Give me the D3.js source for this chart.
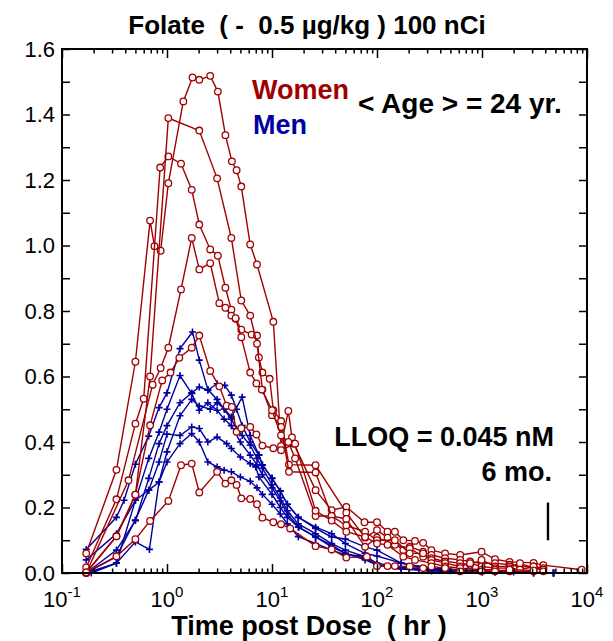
<!DOCTYPE html>
<html>
<head>
<meta charset="utf-8">
<script src="https://d3js.org/d3.v7.min.js"></script>
<style>
body { margin: 0; background: #fff; }
text { font-family: "Liberation Sans", Arial, sans-serif; }
</style>
</head>
<body>
<div id="chart"></div>
<script>
// ---- data: [time (hr), concentration] ----
const womenA = [[0.17,0.06],[0.33,0.315],[0.5,0.645],[0.69,1.076],[0.76,0.998],[0.87,0.984],[1.03,1.19],[1.43,1.44],[1.75,1.513],[2.03,1.506],[2.58,1.518],[3.05,1.47],[3.6,1.337],[4.15,1.257],[4.6,1.23],[5.1,1.18],[6.2,1.003],[7.2,0.942],[10.3,0.767],[12.2,0.388],[14.3,0.495],[15.5,0.414],[16.1,0.395],[26,0.253],[37,0.192],[51,0.202],[76,0.155],[100,0.155],[126,0.126],[148,0.126],[178,0.10],[230,0.098],[275,0.092],[330,0.07],[445,0.06],[620,0.055],[990,0.065],[1330,0.042],[1830,0.034],[3100,0.031],[3840,0.024],[8900,0.01]];
const womenB = [[0.17,0.017],[0.33,0.225],[0.5,0.456],[0.6,0.532],[0.86,1.238],[1.03,1.272],[1.36,1.25],[1.72,1.17],[2.03,1.064],[2.58,0.988],[3.05,0.969],[3.6,0.871],[4.1,0.804],[4.5,0.776],[5.1,0.743],[6.4,0.728],[7.2,0.725],[7.5,0.658],[8.1,0.612],[9.5,0.593],[10.3,0.497],[12.2,0.464],[14.5,0.331],[26,0.329],[51,0.184],[77,0.108],[100,0.131],[126,0.108],[178,0.07],[205,0.08],[275,0.065],[330,0.055],[445,0.045],[620,0.04],[770,0.035],[990,0.03],[1330,0.03],[1830,0.025],[2300,0.02],[3100,0.02],[3840,0.015]];
const womenC = [[0.17,0.0],[0.33,0.112],[0.5,0.239],[0.69,0.60],[1.03,1.389],[2.03,1.351],[3.0,1.205],[4.1,1.023],[5.1,0.832],[6.2,0.786],[7.2,0.70],[8.1,0.56],[10,0.482],[12.2,0.446],[14.5,0.309],[26,0.307],[37,0.174],[51,0.165],[77,0.08],[100,0.108],[148,0.086],[205,0.075],[275,0.05],[330,0.045],[445,0.035],[620,0.03],[770,0.025],[990,0.04],[1330,0.02],[1830,0.02],[2300,0.03],[3100,0.015],[3840,0.01]];
const womenD = [[0.17,0.0],[0.43,0.283],[0.73,0.575],[0.87,0.626],[1.03,0.688],[1.36,0.866],[1.72,1.023],[2.03,0.927],[2.58,0.946],[3.15,0.824],[3.6,0.81],[4.1,0.786],[4.5,0.778],[5.1,0.72],[6.2,0.612],[7.1,0.579],[8.0,0.56],[10,0.497],[12.2,0.42],[14.3,0.40],[16.6,0.35],[26,0.174],[37,0.174],[51,0.145],[77,0.126],[100,0.10],[148,0.10],[205,0.06],[275,0.06],[330,0.04],[445,0.03],[620,0.02],[770,0.03],[990,0.02],[1330,0.015],[1830,0.015],[2300,0.01],[3100,0.02],[3840,0.005]];
const womenE = [[0.17,0.002],[0.33,0.112],[0.5,0.239],[0.69,0.451],[0.9,0.588],[1.08,0.612],[1.31,0.657],[1.72,0.688],[2.03,0.725],[2.58,0.617],[3.15,0.57],[3.7,0.511],[4.15,0.507],[4.6,0.431],[5.1,0.442],[6.2,0.446],[7.1,0.423],[8.1,0.389],[10.3,0.381],[12.2,0.375],[16.6,0.395],[26,0.19],[37,0.16],[51,0.126],[77,0.11],[100,0.09],[126,0.086],[178,0.05],[230,0.04],[330,0.03],[445,0.02],[620,0.015],[990,0.01],[1330,0.01],[1830,0.005],[3100,0.005]];
const womenF = [[0.17,0.002],[0.33,0.051],[0.5,0.103],[0.69,0.159],[1.03,0.22],[1.36,0.329],[1.72,0.334],[2.03,0.246],[3.0,0.309],[3.6,0.273],[4.1,0.283],[4.6,0.269],[5.1,0.228],[6.2,0.226],[7.2,0.21],[8.1,0.169],[10.3,0.155],[12.2,0.149],[14.9,0.136],[26,0.082],[37,0.072],[51,0.047],[80,0.05],[100,0.021],[126,0.021],[148,0.021],[205,0.02],[275,0.015],[330,0.02],[445,0.015],[620,0.005],[990,0.005],[1330,0.005],[1830,0.01],[3100,0.008]];

const menA = [[0.17,0.072],[0.33,0.17],[0.39,0.222],[0.5,0.332],[0.67,0.418],[0.84,0.505],[1.0,0.55],[1.33,0.685],[1.75,0.736],[2.03,0.65],[2.45,0.56],[3.0,0.53],[3.5,0.50],[4.1,0.47],[4.6,0.44],[5.2,0.42],[6.2,0.39],[7.2,0.35],[8.1,0.32],[10,0.27],[12,0.23],[14,0.19],[17.8,0.15],[26,0.12],[37,0.09],[50,0.07],[77,0.05],[100,0.03],[150,0.02],[250,0.012],[500,0.007],[1000,0.004],[2000,0.003],[4800,0.0]];
const menB = [[0.17,0.04],[0.33,0.12],[0.5,0.222],[0.67,0.35],[0.84,0.43],[1.0,0.50],[1.33,0.603],[1.72,0.548],[2.03,0.497],[2.45,0.52],[3.0,0.497],[3.5,0.47],[4.1,0.45],[5.0,0.40],[6.2,0.36],[7.2,0.33],[8.1,0.30],[10,0.26],[12,0.22],[14,0.18],[18,0.14],[26,0.11],[37,0.085],[50,0.06],[77,0.045],[100,0.025],[170,0.015],[330,0.008],[620,0.005],[1330,0.002],[3100,0.0]];
const menC = [[0.17,0.0],[0.33,0.07],[0.5,0.16],[0.67,0.289],[0.84,0.395],[1.0,0.45],[1.33,0.52],[1.72,0.55],[2.03,0.568],[2.45,0.558],[3.0,0.578],[3.55,0.573],[4.1,0.543],[4.6,0.50],[5.2,0.45],[6.2,0.40],[7.5,0.36],[8.1,0.33],[10,0.29],[12,0.25],[14,0.21],[17.8,0.17],[26,0.136],[37,0.11],[50,0.104],[77,0.08],[100,0.07],[170,0.03],[330,0.015],[620,0.01],[1330,0.005],[4800,0.0]];
const menD = [[0.17,0.0],[0.33,0.03],[0.5,0.095],[0.68,0.072],[0.84,0.278],[1.0,0.37],[1.33,0.48],[1.72,0.53],[2.03,0.51],[2.58,0.50],[3.0,0.52],[3.55,0.50],[4.1,0.476],[5.2,0.537],[6.2,0.42],[7.5,0.36],[8.1,0.33],[10,0.289],[12,0.25],[14,0.21],[17.8,0.17],[26,0.14],[37,0.12],[50,0.09],[77,0.06],[100,0.052],[170,0.03],[330,0.01],[1000,0.005],[4800,0.0]];
const menE = [[0.17,0.0],[0.33,0.05],[0.5,0.162],[0.67,0.253],[0.84,0.339],[1.0,0.424],[1.33,0.42],[1.72,0.446],[2.03,0.441],[2.45,0.40],[3.0,0.415],[3.7,0.395],[4.1,0.38],[5.0,0.354],[6.2,0.334],[7.0,0.324],[7.5,0.293],[10,0.24],[12,0.20],[14,0.17],[17.8,0.14],[26,0.11],[37,0.08],[50,0.06],[77,0.04],[100,0.024],[170,0.015],[330,0.01],[1000,0.004],[3100,0.0]];
const menF = [[0.19,0.0],[0.33,0.03],[0.5,0.222],[0.67,0.253],[0.84,0.278],[1.0,0.339],[1.33,0.395],[1.72,0.426],[2.03,0.40],[2.45,0.339],[3.0,0.324],[3.5,0.314],[4.1,0.309],[5.0,0.293],[6.2,0.28],[7.2,0.26],[8.1,0.24],[10,0.21],[12,0.18],[14,0.15],[17.8,0.111],[26,0.09],[37,0.07],[50,0.055],[80,0.052],[100,0.024],[170,0.012],[330,0.006],[1000,0.003],[4800,0.0]];

const women = [womenA, womenB, womenC, womenD, womenE, womenF];
const men = [menA, menB, menC, menD, menE, menF];

// six-month marker: time and concentration span
const markTime = 4250;
const markRange = [0.10, 0.215];

const yTicks = d3.range(0, 17).map(i => i / 10);
const xDecades = [-1, 0, 1, 2, 3, 4];

const red = "#a00000";
const blue = "#0000a0";

// ---- layout ----
const margin = {top: 49, right: 26, bottom: 68, left: 62};
const W = 613, H = 641;
const width = W - margin.left - margin.right;
const height = H - margin.top - margin.bottom;

const svg = d3.select("#chart").append("svg")
    .attr("width", W)
    .attr("height", H);

const g = svg.append("g")
    .attr("transform", "translate(" + margin.left + "," + margin.top + ")");

const x = d3.scaleLog().domain([0.1, 1e4]).range([0, width]);
const y = d3.scaleLinear().domain([0, 1.6]).range([height, 0]);

// minor + major tick positions on log axis
const xTickVals = [];
xDecades.forEach(k => {
    if (k === 4) { xTickVals.push(1e4); return; }
    for (let m = 1; m < 10; m++) xTickVals.push(+(m * Math.pow(10, k)).toPrecision(3));
});
const isMajor = v => Math.abs(Math.log10(v) - Math.round(Math.log10(v))) < 1e-6;

// ---- series ----
const line = d3.line().x(d => x(d[0])).y(d => y(d[1]));

svg.append("clipPath").attr("id", "clip")
    .append("rect").attr("x", -6).attr("y", -6).attr("width", width + 12).attr("height", height + 12);

const plot = g.append("g").attr("clip-path", "url(#clip)");

men.forEach(s => {
    plot.append("path")
        .datum(s)
        .attr("fill", "none")
        .attr("stroke", blue)
        .attr("stroke-width", 1.4)
        .attr("d", line);
    plot.selectAll(null)
        .data(s)
        .join("path")
        .attr("transform", d => "translate(" + x(d[0]) + "," + y(d[1]) + ")")
        .attr("d", "M-3.5,0H3.5M0,-3.5V3.5")
        .attr("stroke", blue)
        .attr("stroke-width", 1.6);
});

women.forEach(s => {
    plot.append("path")
        .datum(s)
        .attr("fill", "none")
        .attr("stroke", red)
        .attr("stroke-width", 1.4)
        .attr("d", line);
    plot.selectAll(null)
        .data(s)
        .join("circle")
        .attr("cx", d => x(d[0]))
        .attr("cy", d => y(d[1]))
        .attr("r", 3.3)
        .attr("fill", "#fff")
        .attr("stroke", red)
        .attr("stroke-width", 1.3);
});

// six-month bar
g.append("line")
    .attr("x1", x(markTime)).attr("x2", x(markTime))
    .attr("y1", y(markRange[0])).attr("y2", y(markRange[1]))
    .attr("stroke", "#000")
    .attr("stroke-width", 2.4);

// ---- axes ----
const tickLen = v => isMajor(v) ? 9 : 4.5;

const xAxisG = g.append("g")
    .attr("class", "xAxisG")
    .attr("transform", "translate(0," + height + ")");
xAxisG.call(d3.axisBottom(x).tickValues(xTickVals).tickFormat("").tickSizeOuter(0));
xAxisG.selectAll(".tick line").attr("y2", d => -tickLen(d));

const xTopG = g.append("g").attr("class", "xTopG");
xTopG.call(d3.axisTop(x).tickValues(xTickVals).tickFormat("").tickSizeOuter(0));
xTopG.selectAll(".tick line").attr("y2", d => tickLen(d));

const yAxisG = g.append("g").attr("class", "yAxisG");
yAxisG.call(d3.axisLeft(y).tickValues(yTicks).tickSize(-8).tickSizeOuter(0).tickPadding(7)
    .tickFormat((d, i) => i % 2 === 0 ? d3.format(".1f")(d) : ""));

const yRightG = g.append("g").attr("class", "yRightG")
    .attr("transform", "translate(" + width + ",0)");
yRightG.call(d3.axisRight(y).tickValues(yTicks).tickSize(-8).tickSizeOuter(0).tickFormat(""));

g.selectAll(".domain").remove();
g.selectAll(".tick line").attr("stroke", "#000").attr("stroke-width", 1.5);
yAxisG.selectAll(".tick text")
    .attr("font-size", 22)
    .attr("fill", "#000")
    .style("font-family", "'Liberation Sans', Arial, sans-serif");

// frame
g.append("rect")
    .attr("width", width).attr("height", height)
    .attr("fill", "none").attr("stroke", "#000").attr("stroke-width", 2);

// x labels with superscripts
const xl = g.append("g").attr("class", "xLabels");
xDecades.forEach(k => {
    const t = xl.append("text")
        .attr("x", x(Math.pow(10, k)))
        .attr("y", height + 34)
        .attr("text-anchor", "middle")
        .attr("font-size", 22);
    t.append("tspan").text("10");
    t.append("tspan").attr("dy", -10).attr("font-size", 15).text(String(k));
});

// ---- text ----
svg.append("text")
    .attr("x", 307).attr("y", 34)
    .attr("text-anchor", "middle")
    .attr("font-size", 26).attr("font-weight", "bold")
    .style("white-space", "pre")
    .text("Folate  ( -  0.5 \u00b5g/kg ) 100 nCi");

svg.append("text")
    .attr("x", 309).attr("y", 635)
    .attr("text-anchor", "middle")
    .attr("font-size", 27).attr("font-weight", "bold")
    .style("white-space", "pre")
    .text("Time post Dose  ( hr )");

svg.append("text")
    .attr("x", 252).attr("y", 99)
    .attr("font-size", 27).attr("font-weight", "bold")
    .attr("fill", red)
    .text("Women");

svg.append("text")
    .attr("x", 253).attr("y", 134)
    .attr("font-size", 27).attr("font-weight", "bold")
    .attr("fill", blue)
    .text("Men");

svg.append("text")
    .attr("x", 358).attr("y", 113)
    .attr("font-size", 28).attr("font-weight", "bold")
    .text("< Age > = 24 yr.");

svg.append("text")
    .attr("x", 554).attr("y", 446)
    .attr("text-anchor", "end")
    .attr("font-size", 27).attr("font-weight", "bold")
    .text("LLOQ = 0.045 nM");

svg.append("text")
    .attr("x", 552).attr("y", 481)
    .attr("text-anchor", "end")
    .attr("font-size", 27).attr("font-weight", "bold")
    .text("6 mo.");
</script>
</body>
</html>
